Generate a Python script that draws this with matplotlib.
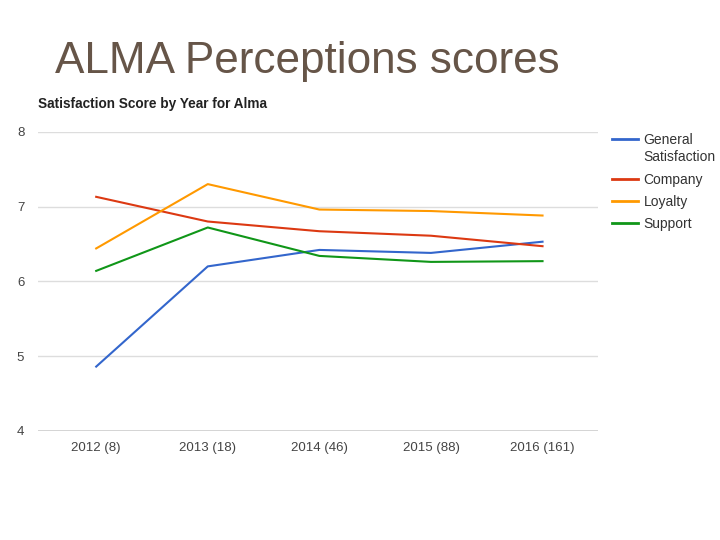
import matplotlib.pyplot as plt
from matplotlib.lines import Line2D

plt.rcParams['font.family'] = ['Liberation Sans', 'DejaVu Sans']

years = ["2012 (8)", "2013 (18)", "2014 (46)", "2015 (88)", "2016 (161)"]
general = [4.86, 6.20, 6.42, 6.38, 6.53]
company = [7.13, 6.80, 6.67, 6.61, 6.47]
loyalty = [6.44, 7.30, 6.96, 6.94, 6.88]
support = [6.14, 6.72, 6.34, 6.26, 6.27]

series = [
    ("General\nSatisfaction", general, "#3366cc"),
    ("Company", company, "#dc3912"),
    ("Loyalty", loyalty, "#ff9900"),
    ("Support", support, "#109618"),
]

fig = plt.figure(figsize=(7.2, 5.4), dpi=100)
fig.text(0.076, 0.886, "ALMA Perceptions scores", fontsize=31.8, color="#665548",
         va="center", ha="left")

ax = fig.add_axes([0.053, 0.202, 0.778, 0.554])
x = range(len(years))
for label, vals, color in series:
    ax.plot(x, vals, color=color, lw=1.5, label=label)

ax.set_xlim(-0.52, 4.5)
ax.set_ylim(4, 8)
ax.set_yticks([4, 5, 6, 7, 8])
ax.set_xticks(list(x))
ax.set_xticklabels(years)
ax.grid(axis="y", color="#dddddd", lw=1)
ax.set_axisbelow(True)
for s in ax.spines.values():
    s.set_visible(False)
ax.axhline(4, color="#cccccc", lw=1.2, zorder=0)
ax.tick_params(length=0, labelsize=9.5, colors="#444444")
ax.tick_params(axis="y", pad=10)
ax.tick_params(axis="x", pad=8)

ax.set_title("Satisfaction Score by Year for Alma", loc="left", fontsize=9.8,
             fontweight="bold", color="#222222", x=-0.001, pad=17)

# legend drawn by hand so the swatch sits on the first line of a wrapped label
legend_y = [0.742, 0.668, 0.627, 0.587]
for (label, vals, color), ly in zip(series, legend_y):
    fig.add_artist(Line2D([0.850, 0.886], [ly, ly], color=color, lw=2,
                          transform=fig.transFigure))
    fig.text(0.894, ly + 0.012, label, fontsize=10, color="#333333",
             va="top", ha="left", linespacing=1.25)

fig.savefig("out.png", dpi=100)
